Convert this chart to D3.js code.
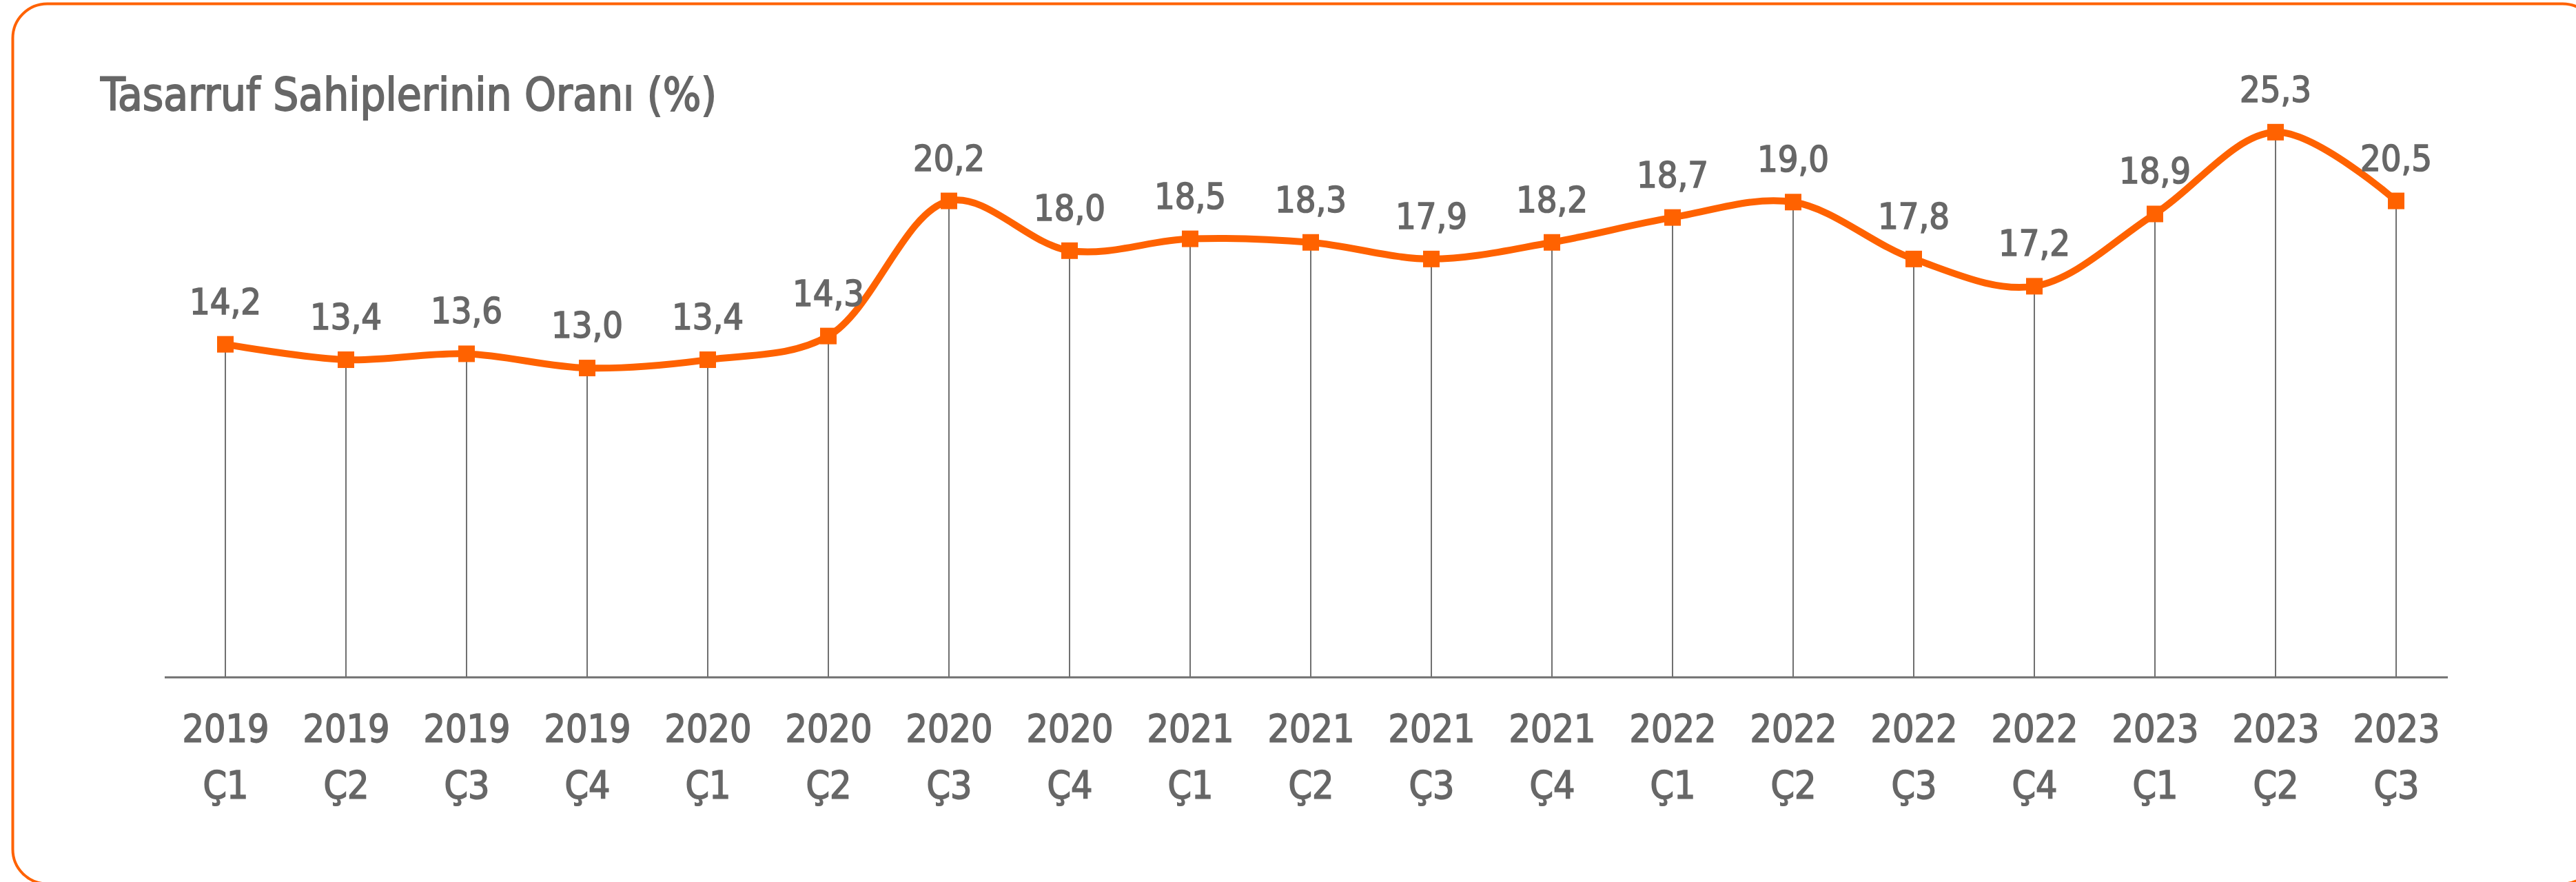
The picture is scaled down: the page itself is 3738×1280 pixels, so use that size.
<!DOCTYPE html>
<html>
<head>
<meta charset="utf-8">
<script src="https://cdn.jsdelivr.net/npm/d3@7"></script>
<style>
  html, body { margin: 0; padding: 0; background: #fff; }
  svg { display: block; }
</style>
</head>
<body>
<svg id="chart" width="3738" height="1280"></svg>
<script>
// quarters on the x axis
const years = ['2019', '2019', '2019', '2019', '2020', '2020', '2020', '2020', '2021', '2021',
  '2021', '2021', '2022', '2022', '2022', '2022', '2023', '2023', '2023'];
const quarters = ['Ç1', 'Ç2', 'Ç3', 'Ç4', 'Ç1', 'Ç2', 'Ç3', 'Ç4', 'Ç1', 'Ç2',
  'Ç3', 'Ç4', 'Ç1', 'Ç2', 'Ç3', 'Ç4', 'Ç1', 'Ç2', 'Ç3'];

// printed values
const labelValues = [14.2, 13.4, 13.6, 13.0, 13.4, 14.3, 20.2, 18.0, 18.5, 18.3,
  17.9, 18.2, 18.7, 19.0, 17.8, 17.2, 18.9, 25.3, 20.5];
// heights the markers are actually drawn at
const markerValues = [14.05, 13.4, 13.65, 13.05, 13.4, 14.4, 20.1, 18.0, 18.5, 18.35,
  17.65, 18.35, 19.4, 20.05, 17.65, 16.5, 19.55, 23.0, 20.1];

const title = 'Tasarruf Sahiplerinin Oranı (%)';

const orange = '#ff6200';
const grey = '#676767';
const font = "'DejaVu Sans Condensed', 'DejaVu Sans', sans-serif";

const svg = d3.select('#chart');

// orange frame, runs off the right and bottom edges
svg.append('rect')
  .attr('x', 18.5).attr('y', 5.5)
  .attr('width', 3750).attr('height', 1277)
  .attr('rx', 50).attr('ry', 50)
  .attr('fill', 'none')
  .attr('stroke', orange)
  .attr('stroke-width', 4);

// title
svg.append('text')
  .attr('x', 146).attr('y', 160)
  .attr('font-family', font)
  .attr('font-stretch', 'condensed')
  .attr('font-size', 65)
  .attr('fill', grey)
  .attr('stroke', grey).attr('stroke-width', 1.8)
  .text(title);

const baseY = 983;
const idx = d3.range(years.length);

const x = d3.scalePoint().domain(idx).range([327, 3477]);
const y = d3.scaleLinear().domain([0, 25]).range([baseY, baseY - 25 * 34.4]);

// x axis
const axis = svg.append('g')
  .attr('transform', `translate(0, ${baseY})`)
  .call(d3.axisBottom(x).tickSize(0).tickPadding(0).tickFormat(i => years[i]));

axis.select('.domain').remove();
axis.attr('font-family', font).attr('font-size', 55);

axis.selectAll('.tick text').each(function (i) {
  const t = d3.select(this);
  t.text(null).attr('y', null).attr('dy', null)
    .attr('fill', grey)
    .attr('font-stretch', 'condensed')
    .attr('stroke', grey).attr('stroke-width', 1.6);
  t.append('tspan').attr('x', 0).attr('y', 93).text(years[i]);
  t.append('tspan').attr('x', 0).attr('y', 175).text(quarters[i]);
});

svg.append('line')
  .attr('x1', x(0) - 88).attr('x2', x(idx.length - 1) + 75)
  .attr('y1', baseY).attr('y2', baseY)
  .attr('stroke', '#707070').attr('stroke-width', 3);

// drop lines
svg.append('g')
  .selectAll('line')
  .data(idx)
  .join('line')
  .attr('x1', i => x(i)).attr('x2', i => x(i))
  .attr('y1', i => y(markerValues[i])).attr('y2', baseY)
  .attr('stroke', '#707070')
  .attr('stroke-width', 2);

// smoothed line
const line = d3.line()
  .x(i => x(i))
  .y(i => y(markerValues[i]))
  .curve(d3.curveCatmullRom);

svg.append('path')
  .datum(idx)
  .attr('d', line)
  .attr('fill', 'none')
  .attr('stroke', orange)
  .attr('stroke-width', 10)
  .attr('stroke-linejoin', 'round');

// square markers
svg.append('g')
  .selectAll('rect')
  .data(idx)
  .join('rect')
  .attr('x', i => x(i) - 12)
  .attr('y', i => y(markerValues[i]) - 12)
  .attr('width', 24).attr('height', 24)
  .attr('fill', orange);

// value labels
const fmt = d3.formatLocale({ decimal: ',', thousands: '.', grouping: [3], currency: ['', ''] }).format('.1f');

svg.append('g')
  .selectAll('text')
  .data(idx)
  .join('text')
  .attr('x', i => x(i))
  .attr('y', i => y(markerValues[i]) - 44)
  .attr('text-anchor', 'middle')
  .attr('font-family', font)
  .attr('font-stretch', 'condensed')
  .attr('font-size', 52)
  .attr('fill', grey)
  .attr('stroke', grey).attr('stroke-width', 1.6)
  .text(i => fmt(labelValues[i]));
</script>
</body>
</html>
